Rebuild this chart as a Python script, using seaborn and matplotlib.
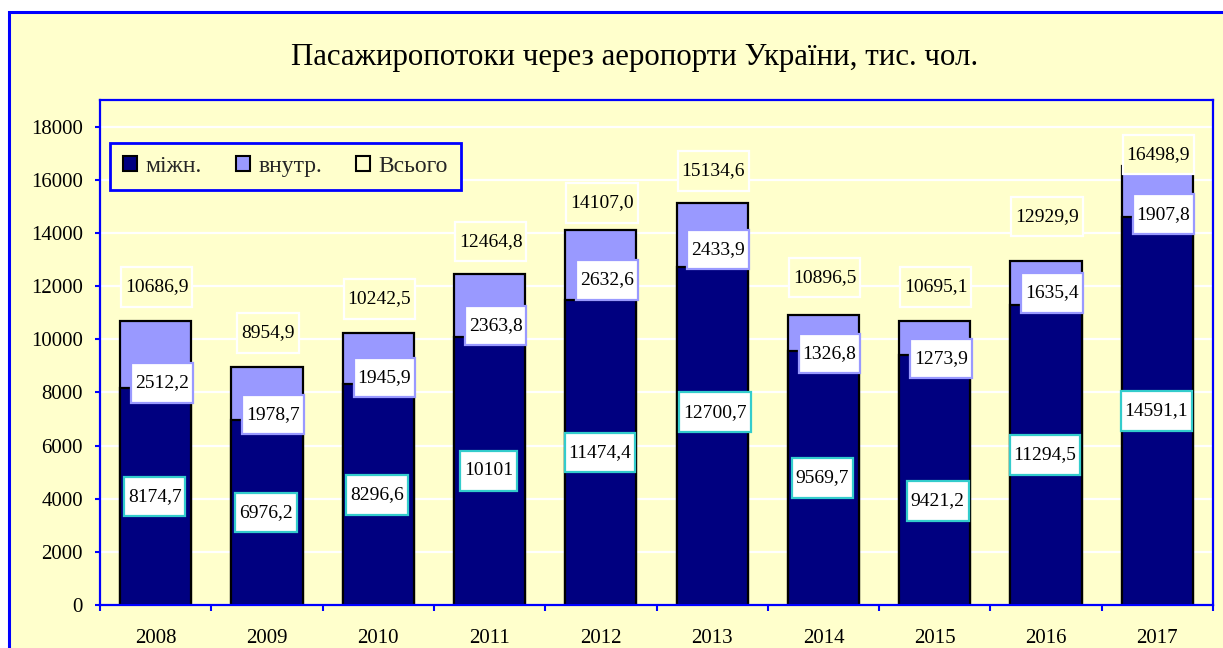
import numpy as np
import pandas as pd
import matplotlib
matplotlib.use("Agg")
import matplotlib.pyplot as plt
import seaborn as sns
from matplotlib.patches import Patch, Rectangle
from matplotlib.path import Path
from matplotlib.ticker import FixedLocator

# ---------------- data ----------------
years = ["2008", "2009", "2010", "2011", "2012", "2013", "2014", "2015", "2016", "2017"]
intl = [8174.7, 6976.2, 8296.6, 10101, 11474.4, 12700.7, 9569.7, 9421.2, 11294.5, 14591.1]
dom = [2512.2, 1978.7, 1945.9, 2363.8, 2632.6, 2433.9, 1326.8, 1273.9, 1635.4, 1907.8]
total = [10686.9, 8954.9, 10242.5, 12464.8, 14107.0, 15134.6, 10896.5, 10695.1, 12929.9, 16498.9]
series_names = ["міжн.", "внутр.", "Всього"]
title = "Пасажиропотоки через аеропорти України, тис. чол."
y_ticks = [0, 2000, 4000, 6000, 8000, 10000, 12000, 14000, 16000, 18000]

# manual label nudges (pixels, up = positive), as placed in the original chart
total_dy = [34, 34, 34, 32, 27, 32, 38, 34, 45, 12]
dom_dy = [5, 5, 7, 11, 20, 18, -3, -4, 12, 3]
intl_dy = [0, 0, 0, 0, 0, 24, 0, -21, 0, 0]
intl_dx = [-1, -1, -1, -1, -1, 3, -1, 3, -1, -1]

# ---------------- style ----------------
BG = "#FFFFCC"
BLUE = "#0000FF"
NAVY = "#000080"
LILAC = "#9999FF"
TEAL = "#33CCCC"
FS_LABEL = 14
FS_TICK = 15
FS_LEG = 17
FS_TITLE = 22.2

sns.set_theme(style="white")
plt.rcParams["font.family"] = ["Liberation Serif", "DejaVu Serif"]

W, H = 1223, 648
fig = plt.figure(figsize=(W / 100, H / 100), dpi=100, facecolor="white")
fig.patches.append(Rectangle((9 / W, -0.2), 1.3, 1.2 - 12 / H, transform=fig.transFigure,
                             facecolor=BG, edgecolor=BLUE, linewidth=2.2, zorder=-10))

ax = fig.add_axes([100 / W, (H - 605) / H, 1113 / W, 505 / H])
ax.set_facecolor(BG)

df = pd.DataFrame({"year": years, "intl": intl, "dom": dom, "total": total})

sns.barplot(data=df, x="year", y="total", color=LILAC, saturation=1, width=0.64,
            edgecolor="black", linewidth=1.6, errorbar=None, ax=ax)
sns.barplot(data=df, x="year", y="intl", color=NAVY, saturation=1, width=0.64,
            edgecolor="black", linewidth=1.6, errorbar=None, ax=ax)


def padded_box(px, py):
    def style(x0, y0, width, height, mutation_size):
        dx = px * mutation_size
        dy = py * mutation_size
        a, b = x0 - dx, y0 - dy
        c, d = x0 + width + dx, y0 + height + dy
        return Path([(a, b), (c, b), (c, d), (a, d), (a, b)], closed=True)
    return style


box = padded_box(0.2, 0.58)


def fmt(v, spec):
    return format(v, spec).replace(".", ",")


for i in range(len(years)):
    ax.annotate(fmt(total[i], ".1f"), xy=(i, total[i]), xytext=(1, total_dy[i]),
                textcoords="offset pixels", ha="center", va="center", fontsize=FS_LABEL,
                color="black", zorder=6,
                bbox=dict(boxstyle=box, facecolor=BG, edgecolor="white", linewidth=1.6))
    ax.annotate(fmt(dom[i], ".1f"), xy=(i, intl[i]), xytext=(6, dom_dy[i]),
                textcoords="offset pixels", ha="center", va="center", fontsize=FS_LABEL,
                color="black", zorder=6,
                bbox=dict(boxstyle=box, facecolor="white", edgecolor=LILAC, linewidth=1.6))
    ax.annotate(fmt(intl[i], "g"), xy=(i, intl[i] / 2), xytext=(intl_dx[i], intl_dy[i]),
                textcoords="offset pixels", ha="center", va="center", fontsize=FS_LABEL,
                color="black", zorder=6,
                bbox=dict(boxstyle=box, facecolor="white", edgecolor=TEAL, linewidth=1.6))

# axes
ax.set_xlim(-0.5, len(years) - 0.5)
ax.set_ylim(0, 19000)
ax.set_yticks(y_ticks)
ax.set_yticklabels([str(t) for t in y_ticks])
ax.yaxis.grid(True, color="white", linewidth=1.6)
ax.xaxis.grid(False)
ax.set_axisbelow(True)
ax.set_xlabel("")
ax.set_ylabel("")
ax.tick_params(axis="y", direction="out", length=3.6, width=1.5, color=BLUE, pad=8.6,
               labelsize=FS_TICK, labelcolor="black", left=True)
ax.xaxis.set_minor_locator(FixedLocator(np.arange(-0.5, len(years), 1.0)))
ax.tick_params(axis="x", which="major", length=0, pad=17.5, labelsize=FS_TICK,
               labelcolor="black")
ax.tick_params(axis="x", which="minor", direction="out", length=4.3, width=1.5, color=BLUE,
               bottom=True)
for s in ax.spines.values():
    s.set_visible(True)
    s.set_color(BLUE)
    s.set_linewidth(1.6)

# legend
handles = [Patch(facecolor=NAVY, edgecolor="black", linewidth=1.5),
           Patch(facecolor=LILAC, edgecolor="black", linewidth=1.5),
           Patch(facecolor=BG, edgecolor="black", linewidth=1.5)]
leg = ax.legend(handles, series_names, ncol=3, loc="upper left",
                bbox_to_anchor=(10 / 1113, (605 - 143) / 505), borderaxespad=0,
                frameon=True, fancybox=False, edgecolor=BLUE, facecolor=BG, framealpha=1,
                fontsize=FS_LEG, handlelength=0.6, handleheight=0.6, handletextpad=0.35,
                columnspacing=1.45, borderpad=0.55)
leg.get_frame().set_linewidth(2)

fig.text(634.5 / W, 1 - 57 / H, title, ha="center", va="center", fontsize=FS_TITLE,
         color="black")

fig.savefig("out.png", dpi=100, facecolor="white")
